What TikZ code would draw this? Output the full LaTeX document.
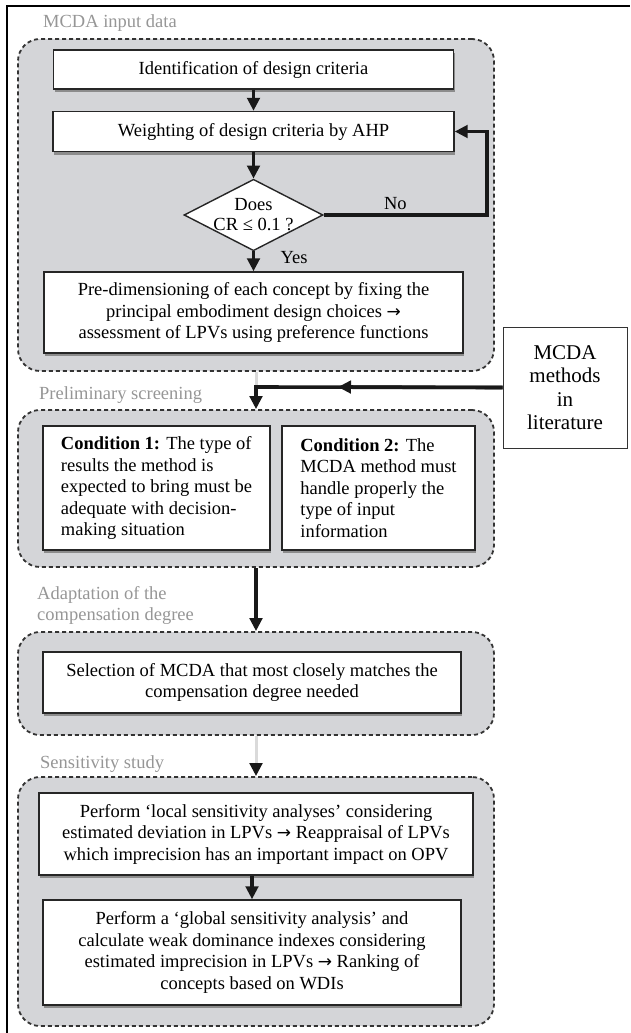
\documentclass[tikz,border=0pt]{standalone}
\usepackage{fontspec}
\setmainfont{Liberation Serif}
\newfontfamily\arrowfont{DejaVu Sans}
\newcommand{\ra}{{\arrowfont\fontsize{17}{21.5}\selectfont →}}
\usepackage{tikz}
\usetikzlibrary{arrows.meta,shadows,shapes.geometric}
\definecolor{groupgray}{RGB}{212,213,216}
\definecolor{labelgray}{RGB}{150,150,150}
\definecolor{feedgray}{RGB}{218,218,218}

\begin{document}
\begin{tikzpicture}[->,>={Triangle[length=13pt,width=12.5pt]},x=1pt,y=-1pt,auto,node distance=60pt,
                    font=\fontsize{18.5}{21.5}\selectfont]
  \tikzstyle{stagegroup}=[draw=black!80,fill=groupgray,dash pattern=on 4pt off 3pt,
                          line width=1.8pt,rounded corners=22pt,minimum width=476pt,inner sep=0pt]
  \tikzstyle{grouplabel}=[text=labelgray,anchor=west,inner sep=0pt,align=left]
  \tikzstyle{stepbox}=[draw=black!85,fill=white,line width=1.4pt,align=center,inner sep=0pt,
                       drop shadow={shadow xshift=1.2pt,shadow yshift=-3pt,fill=black!45,opacity=1}]
  \tikzstyle{decision}=[diamond,draw=black!85,fill=white,line width=1.4pt,inner sep=0pt,
                        minimum width=139pt,minimum height=71.5pt]
  \tikzstyle{litbox}=[draw=black!80,fill=white,line width=1pt,align=center,
                      minimum width=124pt,minimum height=121pt,font=\fontsize{21}{23.5}\selectfont]
  \tikzstyle{flow}=[draw=black!90,line width=3.6pt]
  \tikzstyle{feed}=[-,draw=feedgray,line width=3pt]

  \useasboundingbox (0,0) rectangle (630,1033);
  \draw[-,line width=2.2pt] (7,1033) -- (7,6) -- (630,6);

  % stages
  \node[stagegroup,minimum height=332pt] (inputgrp)  at (256,205)   {};
  \node[stagegroup,minimum height=157pt] (screengrp) at (256,488.5) {};
  \node[stagegroup,minimum height=103pt] (adaptgrp)  at (256,683.5) {};
  \node[stagegroup,minimum height=249pt] (sensgrp)   at (256,901.5) {};

  \node[grouplabel] (inputlbl)  at (43,23)    {MCDA input data};
  \node[grouplabel] (screenlbl) at (39,395)   {Preliminary screening};
  \node[grouplabel] (adaptlbl)  at (37,605.5) {Adaptation of the\\compensation degree};
  \node[grouplabel] (senslbl)   at (40,764)   {Sensitivity study};

  % MCDA input data
  \node[stepbox,minimum width=400pt,minimum height=39pt] (ident) at (253.5,69.5)
       {Identification of design criteria};
  \node[stepbox,minimum width=401pt,minimum height=40pt] (weight) [below of=ident,node distance=62pt]
       {Weighting of design criteria by AHP};
  \node[decision] (cr) [below of=weight,node distance=83.5pt] {};
  \node[inner sep=0pt,align=center,font=\fontsize{18.5}{20}\selectfont] (crtext) at (cr)
       {Does\\CR ≤ 0.1 ?};
  \node[stepbox,minimum width=419pt,minimum height=81pt] (predim) [below of=cr,node distance=97.5pt]
       {Pre-dimensioning of each concept by fixing the\\principal embodiment design choices \ra\\assessment of LPVs using preference functions};

  % preliminary screening
  \node[stepbox,align=left,minimum width=227pt,minimum height=124pt] (cond1) at (156.5,488)
       {\textbf{Condition 1:} The type of\\results the method is\\expected to bring must be\\adequate with decision-\\making situation};
  \node[stepbox,align=left,minimum width=193pt,minimum height=124pt] (cond2) [right of=cond1,node distance=222pt]
       {\textbf{Condition 2:} The\\MCDA method must\\handle properly the\\type of input\\information};
  \node[litbox] (lit) at (565,387.5) {MCDA\\methods\\in\\literature};

  % compensation degree
  \node[stepbox,minimum width=418pt,minimum height=61pt] (select) at (252,682.5)
       {Selection of MCDA that most closely matches the\\compensation degree needed};

  % sensitivity study
  \node[stepbox,minimum width=434pt,minimum height=82pt] (local) at (256,834)
       {Perform ‘local sensitivity analyses’ considering\\estimated deviation in LPVs \ra{} Reappraisal of LPVs\\which imprecision has an important impact on OPV};
  \node[stepbox,minimum width=418pt,minimum height=105pt] (global) [below of=local,node distance=118.5pt,xshift=-4pt]
       {Perform a ‘global sensitivity analysis’ and\\calculate weak dominance indexes considering\\estimated imprecision in LPVs \ra{} Ranking of\\concepts based on WDIs};

  \coordinate (join) at (256,387);
  \coordinate (midarr) at (338,387);
  \coordinate (sensarr) at (256,764);

  \path (ident)  edge[flow] (weight)
        (weight) edge[flow] (cr)
        (cr)     edge[flow] node[pos=0.3,xshift=22pt] {Yes} (predim);
  \draw[flow] (cr.east) -- node[above,pos=0.44] {No} ++(163,0) |- (weight.east);

  \draw[feed] (inputgrp.south) -- (join);
  \draw[flow] (lit.west) -- (join) -- (screengrp.north);
  \draw[flow] (lit.west) -- (midarr);
  \path (screengrp) edge[flow] (adaptgrp);
  \draw[feed] (adaptgrp.south) -- (sensarr);
  \draw[flow] (sensarr) -- (sensgrp.north);
  \path (local.south -| global) edge[flow] (global);
\end{tikzpicture}
\end{document}
